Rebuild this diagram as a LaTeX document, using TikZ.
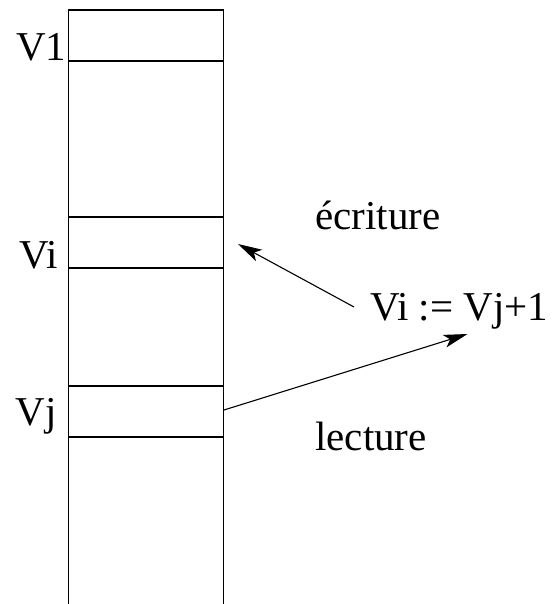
\documentclass[tikz,border=0pt]{standalone}
\usepackage{fontspec}
\setmainfont{Liberation Serif}
\usetikzlibrary{arrows.meta}
\begin{document}
\begin{tikzpicture}[x=1pt,y=-1pt,
  lbl/.style={inner sep=0pt,font=\fontsize{41}{41}\selectfont},
  wall/.style={line width=1.2pt},
  arr/.style={line width=1.1pt,-{Stealth[length=24pt,width=13pt,inset=6pt]}}]
\useasboundingbox (0,0) rectangle (552,604);
% column
\coordinate (tl) at (68.5,10);
\coordinate (tr) at (223.5,10);
\coordinate (bl) at (68.5,604);
\coordinate (br) at (223.5,604);
\draw[wall] (bl) -- (tl) -- (tr) -- (br);
\foreach \yy in {61,217,268,386,437}{
  \draw[wall] (68.5,\yy) -- (223.5,\yy);
}
% labels
\node[lbl,anchor=base east] (v1) at (66.5,61) {V1};
\node[lbl,anchor=base east] (vi) at (58,268) {Vi};
\node[lbl,anchor=base east] (vj) at (57,425) {Vj};
\node[lbl,anchor=base west] (ecr) at (315,229) {écriture};
\node[lbl,anchor=base west] (asg) at (370,320) {Vi := Vj+1};
\node[lbl,anchor=base west] (lec) at (315,450) {lecture};
% arrows
\coordinate (wtail) at (354,307);
\coordinate (whead) at (238,244);
\coordinate (rtail) at (224,410);
\coordinate (rhead) at (467.5,334);
\draw[arr] (wtail) -- (whead);
\draw[arr] (rtail) -- (rhead);
\end{tikzpicture}
\end{document}
